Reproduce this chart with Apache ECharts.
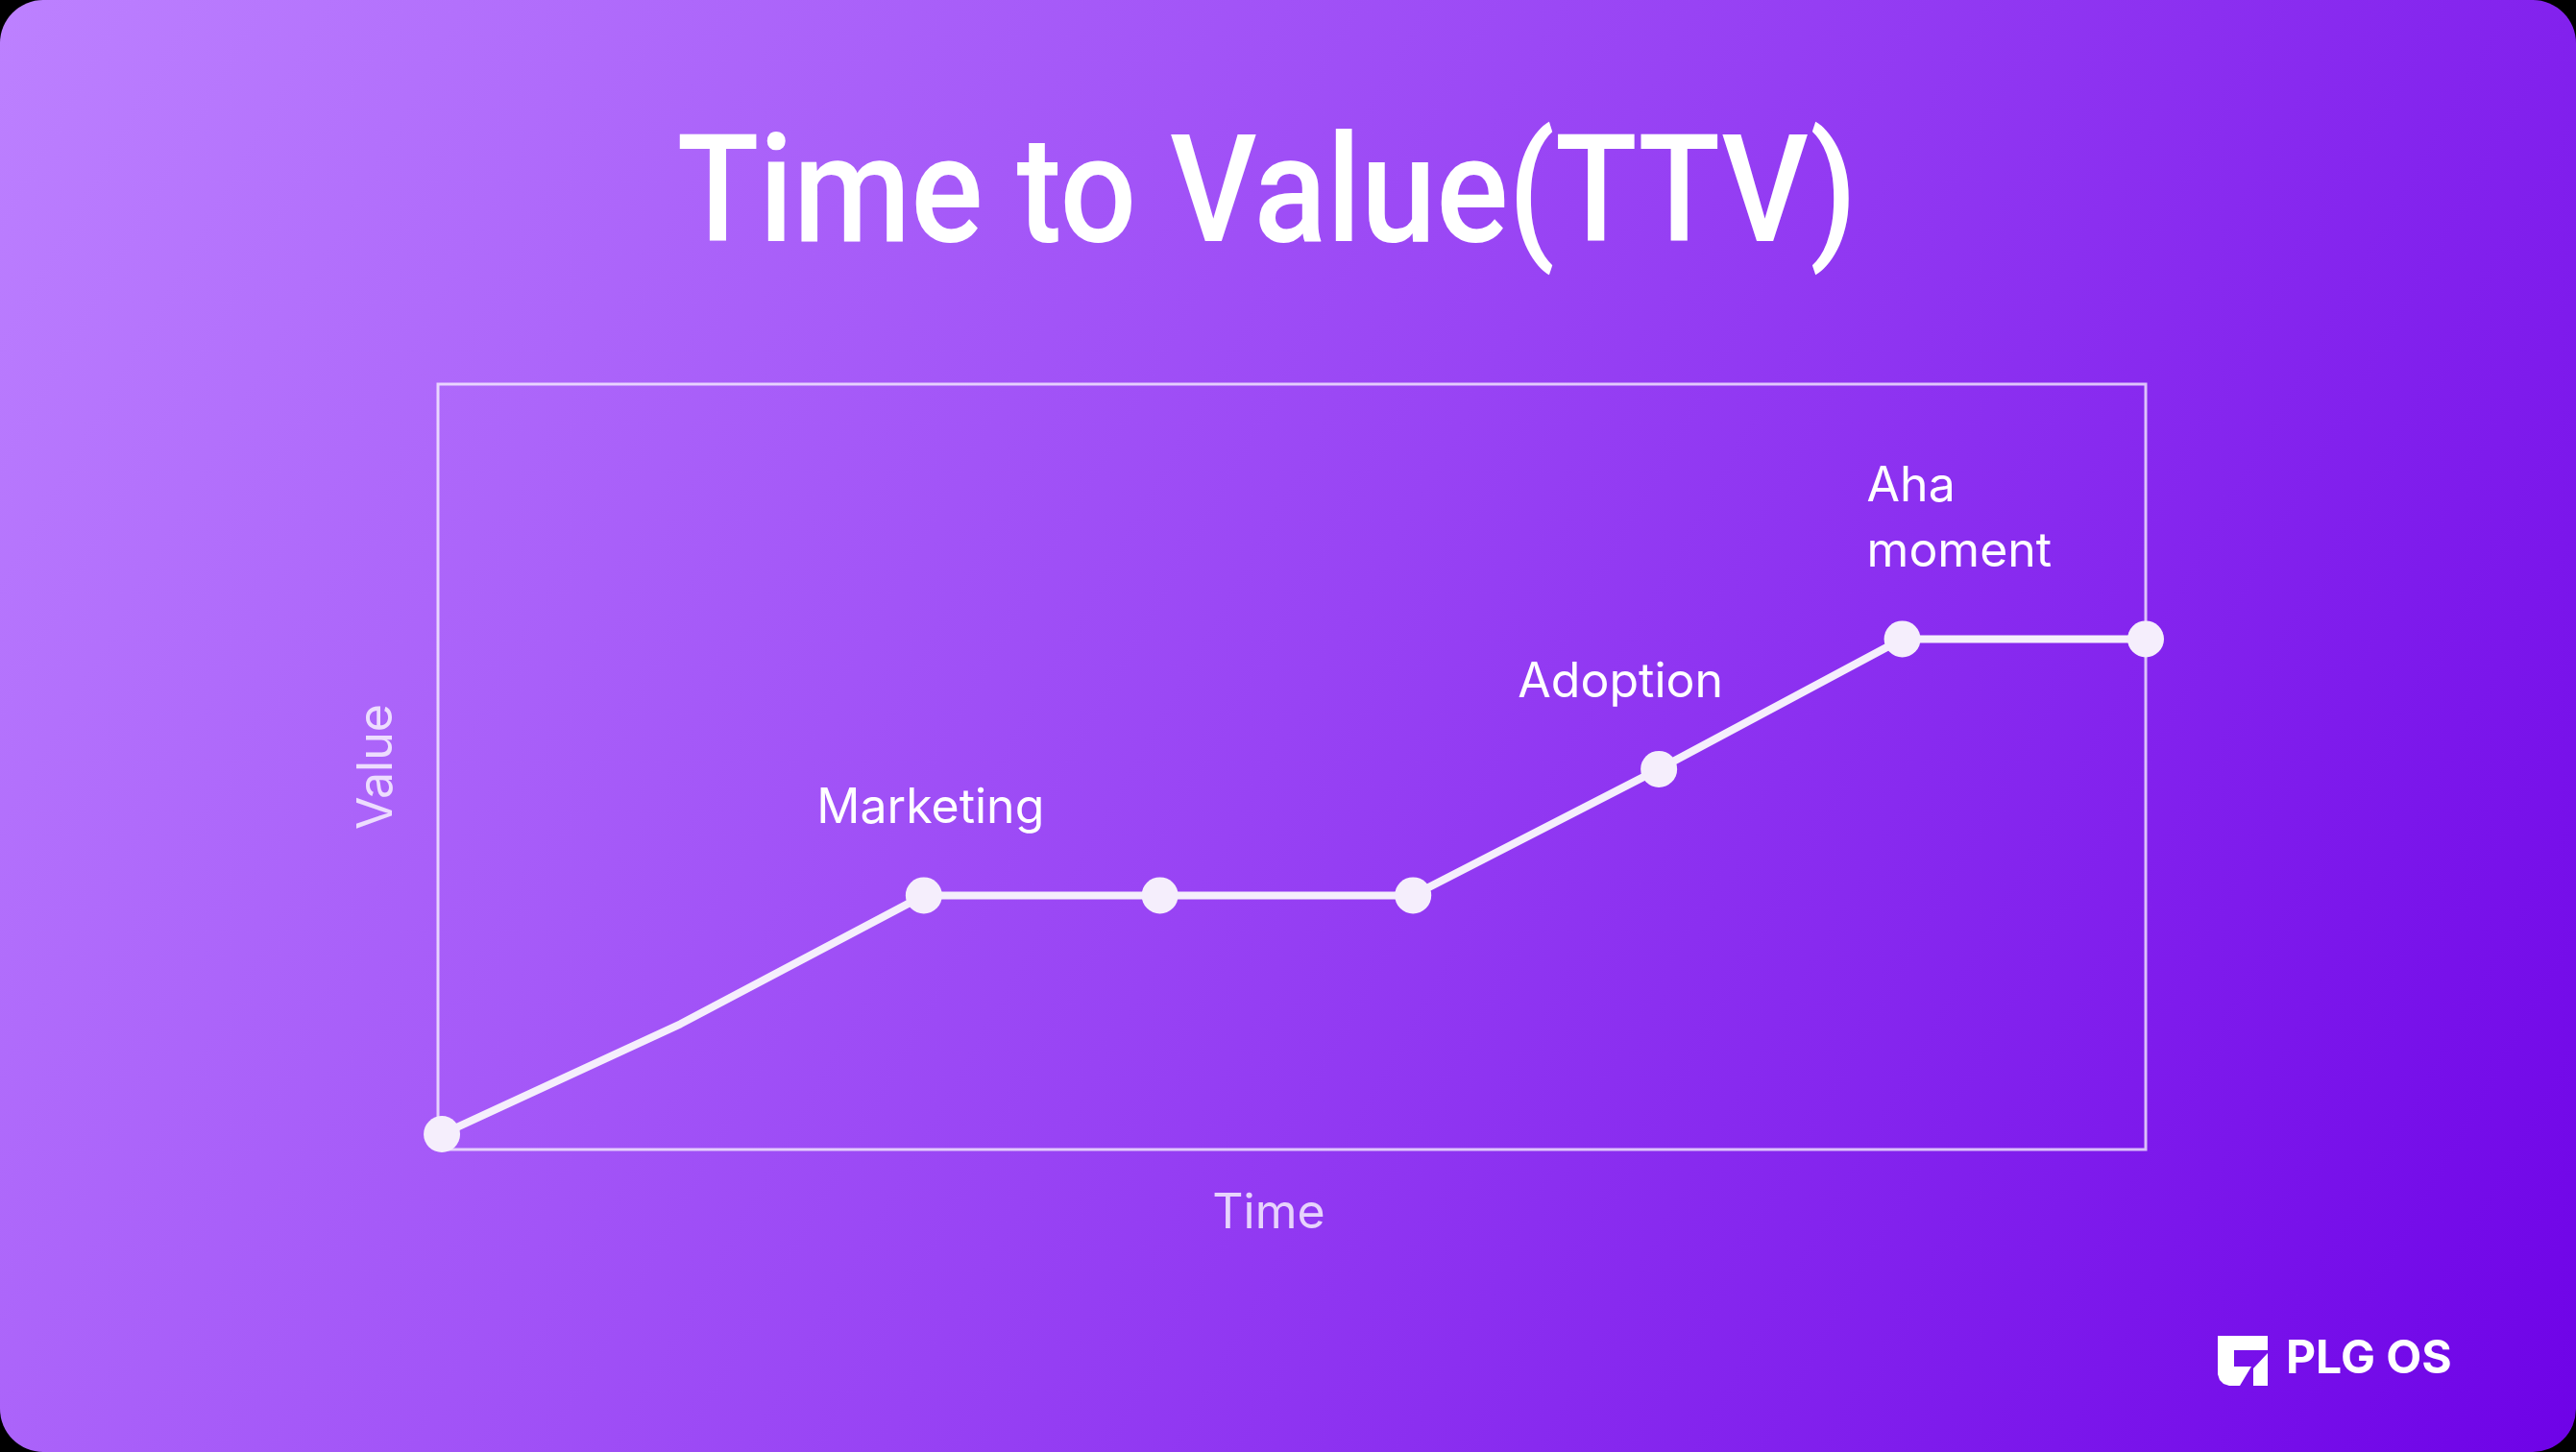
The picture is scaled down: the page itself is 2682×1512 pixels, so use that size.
<!DOCTYPE html>
<html>
<head>
<meta charset="utf-8">
<script src="https://cdn.jsdelivr.net/npm/echarts@6/dist/echarts.min.js"></script>
<style>
  html, body { margin: 0; padding: 0; background: #000; }
  #chart { width: 2682px; height: 1512px; }
</style>
</head>
<body>
<div id="chart"></div>
<script>
// ---- data ----
const timeSteps = [0, 0.98, 1.98, 2.95, 3.99, 5, 6, 7];
const valueLevels = [2, 16.4, 33.2, 33.2, 33.2, 49.7, 66.7, 66.7];
const stageLabels = ['', '', 'Marketing', '', '', 'Adoption', 'Aha\nmoment', ''];
const markerShown = [true, false, true, true, true, true, true, true];
const chartTitle = 'Time to Value(TTV)';
const xAxisName = 'Time';
const yAxisName = 'Value';
const brandName = 'PLG OS';

const labelStyles = {
  'Marketing': { align: 'center', offset: [7, 0] },
  'Adoption': { align: 'center', offset: [-40, 0] },
  'Aha\nmoment': { align: 'left', offset: [-37, 0] }
};

const W = 2682, H = 1512;
const lineColor = '#f5eefc';
const frameColor = 'rgba(255,255,255,0.72)';
const nameColor = 'rgba(255,255,255,0.78)';

const seriesData = timeSteps.map((t, i) => {
  const item = { value: [t, valueLevels[i]] };
  if (!markerShown[i]) item.symbol = 'none';
  const lab = stageLabels[i];
  if (lab) {
    item.label = {
      show: true,
      formatter: lab,
      position: 'top',
      distance: 37,
      align: labelStyles[lab].align,
      offset: labelStyles[lab].offset,
      color: '#ffffff',
      fontFamily: 'Inter',
      fontSize: 50,
      lineHeight: 68
    };
  }
  return item;
});

const chart = echarts.init(document.getElementById('chart'), null, { renderer: 'canvas', width: W, height: H });

chart.setOption({
  backgroundColor: '#000000',
  animation: false,
  graphic: [
    {
      type: 'rect',
      z: -100,
      silent: true,
      shape: { x: 0, y: 0, width: W, height: H, r: 45 },
      style: {
        fill: new echarts.graphic.LinearGradient(0, 0, 1, 1, [
          { offset: 0, color: '#bd81ff' },
          { offset: 0.5, color: '#9843f4' },
          { offset: 1, color: '#6e02e7' }
        ])
      }
    },
    {
      type: 'text',
      x: 1319,
      y: 212,
      scaleX: 0.9,
      scaleY: 1,
      style: {
        text: chartTitle,
        fill: '#ffffff',
        font: '500 156px Roboto',
        align: 'center',
        verticalAlign: 'middle'
      }
    },
    {
      type: 'group',
      x: 2304,
      y: 1386,
      children: [
        {
          type: 'polygon',
          shape: { points: [[5,5],[57,5],[57,20],[22,20],[22,37],[40,37],[28,57],[17,57],[11,55],[7,51],[5,45]] },
          style: { fill: '#ffffff' }
        },
        {
          type: 'polygon',
          shape: { points: [[42,39],[57,23],[57,57],[42,57]] },
          style: { fill: '#ffffff' }
        }
      ]
    },
    {
      type: 'text',
      x: 2380,
      y: 1416,
      style: {
        text: brandName,
        fill: '#ffffff',
        font: '700 48px Inter',
        verticalAlign: 'middle',
        align: 'left'
      }
    }
  ],
  grid: {
    left: 456,
    right: 448,
    top: 400,
    bottom: 315,
    show: true,
    backgroundColor: 'transparent',
    borderColor: frameColor,
    borderWidth: 3
  },
  xAxis: {
    type: 'value',
    min: -0.016,
    max: 7,
    name: xAxisName,
    nameLocation: 'middle',
    nameGap: 37,
    nameTextStyle: {
      color: nameColor,
      fontFamily: 'Inter',
      fontSize: 50,
      lineHeight: 60,
      padding: [0, 48, 0, 0]
    },
    axisLine: { show: false },
    axisTick: { show: false },
    axisLabel: { show: false },
    splitLine: { show: false }
  },
  yAxis: {
    type: 'value',
    min: 0,
    max: 100,
    name: yAxisName,
    nameLocation: 'middle',
    nameRotate: 90,
    nameGap: 33,
    nameTextStyle: {
      color: nameColor,
      fontFamily: 'Inter',
      fontSize: 50,
      lineHeight: 60
    },
    axisLine: { show: false },
    axisTick: { show: false },
    axisLabel: { show: false },
    splitLine: { show: false }
  },
  series: [
    {
      type: 'line',
      data: seriesData,
      clip: false,
      symbol: 'circle',
      symbolSize: 38,
      showAllSymbol: true,
      lineStyle: { color: lineColor, width: 8 },
      itemStyle: { color: lineColor },
      label: { show: false },
      emphasis: { disabled: true }
    }
  ]
});
</script>
</body>
</html>
